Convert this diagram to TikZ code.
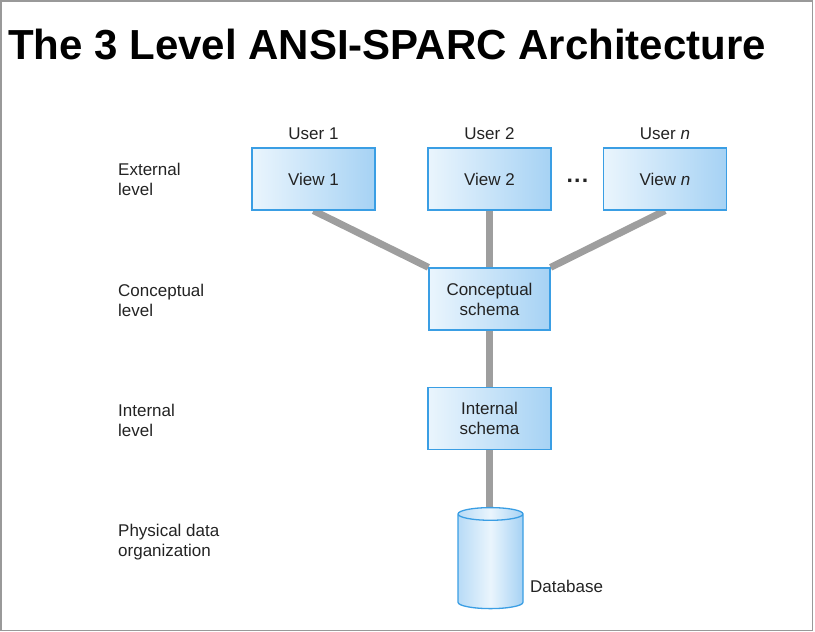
\documentclass[tikz,border=0pt]{standalone}
\usepackage{fontspec}
\setmainfont{Liberation Sans}
\usetikzlibrary{shapes.geometric,backgrounds}
\definecolor{boxline}{RGB}{58,158,228}
\definecolor{boxlight}{RGB}{234,245,253}
\definecolor{boxdark}{RGB}{166,210,244}
\definecolor{linkgray}{RGB}{158,158,158}
\definecolor{textgray}{RGB}{35,35,35}
\begin{document}
\begin{tikzpicture}[x=1pt,y=-1pt,
    every node/.style={font=\fontsize{17}{20}\selectfont,text=textgray},
    viewbox/.style={draw=boxline,line width=1.3pt,left color=boxlight,right color=boxdark,
      minimum width=123,minimum height=62,inner sep=0pt,align=center},
    link/.style={linkgray,line width=7pt},
    lvl/.style={anchor=base west,align=left,inner sep=0pt}]
        \def\xmin{0} \def\xmax{815}
        \def\ymin{0} \def\ymax{632}
        \useasboundingbox (\xmin,\ymin) rectangle (\xmax,\ymax);
        \draw[gray!80,line width=1.2pt] (1,1) rectangle (812.5,630.5);

        \node at (8,59) [anchor=base west,inner sep=0pt,text=black,
          font=\fontsize{42}{42}\selectfont\bfseries] (title) {The 3 Level ANSI-SPARC Architecture};

        \node at (118,195) [lvl] (ext) {External\\level};
        \node at (118,316) [lvl] (con) {Conceptual\\level};
        \node at (118,436) [lvl] (int) {Internal\\level};
        \node at (118,556) [lvl] (phy) {Physical data\\organization};

        \node at (313.5,179) [viewbox] (v1) {View 1};
        \node at (489.5,179) [viewbox] (v2) {View 2};
        \node at (665,179) [viewbox] (vn) {View \textit{n}};
        \node at (578,184) [font=\fontsize{23}{23}\selectfont\bfseries] (dots) {···};

        \node at (313.5,133) [anchor=base,yshift=-6pt] (u1) {User 1};
        \node at (489.5,133) [anchor=base,yshift=-6pt] (u2) {User 2};
        \node at (665,133) [anchor=base,yshift=-6pt] (un) {User \textit{n}};

        \node at (489.5,299) [viewbox,minimum width=121] (cs) {Conceptual\\schema};
        \node at (489.5,418.5) [viewbox] (is) {Internal\\schema};

        \node at (490.5,563) [cylinder,shape border rotate=90,draw=boxline,line width=1.3pt,
          left color=boxdark!80,right color=boxdark,middle color=boxlight,
          minimum width=65,minimum height=101,aspect=1.9] (db) {};
        \node at (530,592) [anchor=base west,inner sep=0pt] (dbl) {Database};

        \begin{scope}[on background layer]
          \draw[link] (v1.south) -- (cs.north west);
          \draw[link] (v2.south) -- (cs.north);
          \draw[link] (vn.south) -- (cs.north east);
          \draw[link] (cs.south) -- (is.north);
          \draw[link] (is.south) -- (is.south |- db.north);
        \end{scope}
      \end{tikzpicture}
\end{document}
